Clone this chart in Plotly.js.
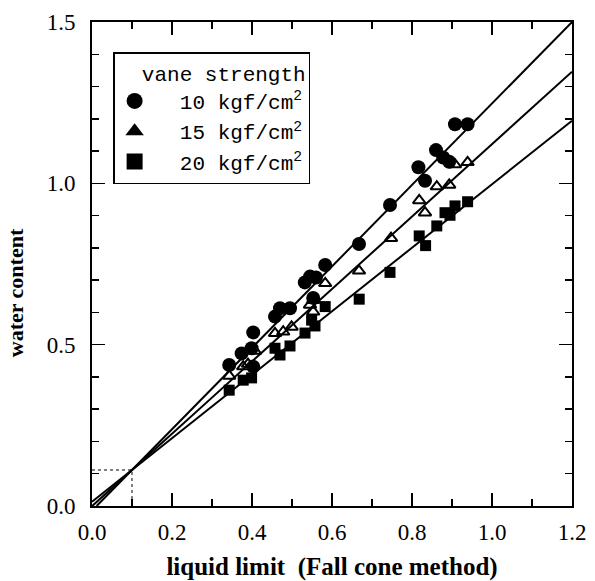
<!DOCTYPE html>
<html>
<head>
<meta charset="utf-8">
<script src="https://cdn.plot.ly/plotly-3.0.1.min.js"></script>
<style>html,body{margin:0;padding:0;background:#fff;}</style>
</head>
<body>
<div id="chart" style="width:595px;height:581px;"></div>
<script>
// Data
const circleX = [0.343,0.374,0.399,0.403,0.403,0.4575,0.47,0.495,0.532,0.545,0.56,0.553,0.583,0.6675,0.745,0.816,0.8325,0.86,0.878,0.893,0.9075,0.939];
const circleY = [0.437,0.473,0.489,0.432,0.538,0.587,0.613,0.613,0.693,0.711,0.708,0.645,0.747,0.812,0.933,1.050,1.008,1.103,1.08,1.067,1.183,1.183];

const triX = [0.343,0.378,0.39,0.4075,0.4575,0.478,0.499,0.545,0.553,0.553,0.583,0.6675,0.7475,0.818,0.8325,0.862,0.893,0.9075,0.939];
const triY = [0.403,0.432,0.44,0.48,0.535,0.54,0.555,0.623,0.638,0.602,0.69,0.729,0.83,0.947,0.909,0.99,0.995,1.058,1.065];

const sqX = [0.343,0.378,0.399,0.4575,0.47,0.495,0.5325,0.549,0.5575,0.583,0.668,0.745,0.818,0.834,0.862,0.8825,0.895,0.9075,0.939];
const sqY = [0.359,0.39,0.397,0.489,0.468,0.496,0.536,0.576,0.558,0.618,0.641,0.724,0.837,0.807,0.868,0.909,0.901,0.930,0.943];

// Fitted lines (slope, intercept) for 10, 15, 20 kgf/cm2
const fitSlope = [1.262, 1.122, 0.984];
const fitIntercept = [-0.0146, -0.0006, 0.0132];
const lineXEnd = 1.2;

// Dotted guide at the common intersection point
const crossX = 0.1;
const crossY = 0.1116;

const legendLabels = ["10 kgf/cm<sup>2</sup>", "15 kgf/cm<sup>2</sup>", "20 kgf/cm<sup>2</sup>"];
const legendSymbols = ["circle", "triangle-up", "square"];
const legendTitle = "vane strength";

const xTitle = "liquid limit  (Fall cone method)";
const yTitle = "water content";

const NB = '\u00a0';
const traces = [];

// fitted lines
for (let i = 0; i < fitSlope.length; i++) {
  const x0 = Math.max(0, -fitIntercept[i] / fitSlope[i]);
  traces.push({
    x: [x0, lineXEnd],
    y: [fitSlope[i] * x0 + fitIntercept[i], fitSlope[i] * lineXEnd + fitIntercept[i]],
    mode: 'lines', line: {color: '#000', width: 2}, showlegend: false, hoverinfo: 'skip'
  });
}

// dotted guide
traces.push({
  x: [0, crossX, crossX], y: [crossY, crossY, 0],
  mode: 'lines', line: {color: '#000', width: 1, dash: 'dot'}, showlegend: false
});

// data
traces.push({x: circleX, y: circleY, mode: 'markers', showlegend: false,
  marker: {symbol: 'circle', size: 14, color: '#000'}});
traces.push({x: triX, y: triY, mode: 'markers', showlegend: false,
  marker: {symbol: 'triangle-up-open', size: 11, color: '#000', line: {width: 2, color: '#000'}}});
traces.push({x: sqX, y: sqY, mode: 'markers', showlegend: false,
  marker: {symbol: 'square', size: 11, color: '#000'}});

// legend entries
for (let i = 0; i < legendLabels.length; i++) {
  traces.push({x: [null], y: [null], mode: 'markers', name: NB + NB + legendLabels[i],
    marker: {symbol: legendSymbols[i], size: 16, color: '#000'}});
}

const tickFont = {family: 'Liberation Serif', size: 23, color: '#000'};
const monoFont = {family: 'Liberation Mono', size: 21, color: '#000'};

const layout = {
  width: 595, height: 581,
  margin: {l: 92, r: 23, t: 22, b: 75},
  paper_bgcolor: '#fff', plot_bgcolor: '#fff',
  showlegend: true,
  legend: {
    x: 0.044, y: 0.938, xanchor: 'left', yanchor: 'top',
    bordercolor: '#000', borderwidth: 1.5, bgcolor: '#fff',
    font: monoFont,
    title: {text: NB + NB + legendTitle, font: monoFont},
    entrywidth: 185, entrywidthmode: 'pixels',
    tracegroupgap: 0
  },
  xaxis: {
    range: [0, 1.2], dtick: 0.2, tick0: 0, tickformat: '.1f',
    ticks: 'inside', ticklen: 13, tickwidth: 1.5, tickcolor: '#000',
    minor: {dtick: 0.1, ticks: 'inside', ticklen: 7, tickwidth: 1.5, tickcolor: '#000'},
    showline: true, linewidth: 2, linecolor: '#000', mirror: 'allticks',
    showgrid: false, zeroline: false, tickfont: tickFont, ticklabelstandoff: 4,
    title: {text: xTitle, font: {family: 'Liberation Serif', size: 25, color: '#000', weight: 'bold'}}
  },
  yaxis: {
    range: [0, 1.5], dtick: 0.5, tick0: 0, tickformat: '.1f',
    ticks: 'inside', ticklen: 13, tickwidth: 1.5, tickcolor: '#000',
    minor: {dtick: 0.1, ticks: 'inside', ticklen: 7, tickwidth: 1.5, tickcolor: '#000'},
    showline: true, linewidth: 2, linecolor: '#000', mirror: 'allticks',
    showgrid: false, zeroline: false, tickfont: tickFont, ticklabelstandoff: 10
  },
  annotations: [{
    text: yTitle, textangle: -90, showarrow: false,
    xref: 'paper', yref: 'paper', x: -0.16, y: 0.44, xanchor: 'center', yanchor: 'middle',
    font: {family: 'Liberation Serif', size: 22, color: '#000', weight: 'bold'}
  }]
};

Plotly.newPlot('chart', traces, layout, {displayModeBar: false, staticPlot: true});
</script>
</body>
</html>
